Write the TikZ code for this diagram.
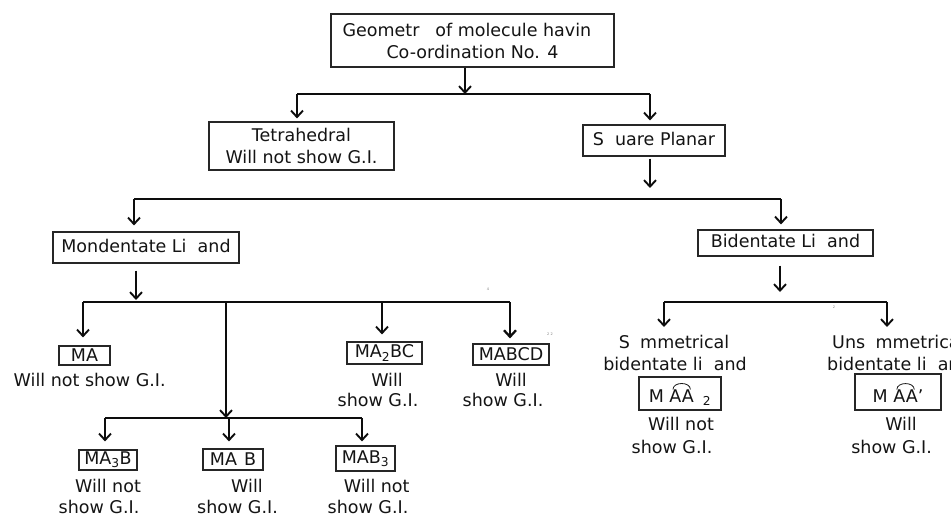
\documentclass[tikz,border=0pt]{standalone}
\usepackage{fontspec}
\setmainfont{DejaVu Sans}
\usetikzlibrary{arrows.meta}
\newcommand\arcAA[1]{\tikz[baseline=(q.base)]{\node[inner sep=0pt,outer sep=0pt,draw=none,minimum size=0pt](q){#1};\draw[line width=0.8pt,black!90] ([xshift=3.5pt,yshift=0.5pt]q.north west) .. controls +(0pt,8pt) and +(0pt,8pt) .. ([xshift=-3.5pt,yshift=0.5pt]q.north east);}}
\begin{document}
\begin{tikzpicture}[x=1pt,y=-1pt,
  txt/.style={font=\fontsize{17.5}{22}\selectfont, text=black!92},
  lbl/.style={txt, inner sep=0pt, anchor=base},
  box/.style={txt, draw=black!85, line width=1.1pt, inner sep=0pt, align=center},
  ln/.style={draw=black!95, line width=1.9pt},
  arr/.style={ln, -{Straight Barb[length=6.5pt,width=12pt]}},
  stray/.style={font=\fontsize{3.5}{4}\selectfont, text=black!50, inner sep=0pt}]
\useasboundingbox (0,0) rectangle (951,516);
\clip (0,0) rectangle (951,516);
\fill[white] (0,0) rectangle (951,516);

% boxes
\node[box, minimum width=283pt, minimum height=53pt] (top) at (472.5,40.5) {Geometr\phantom{y} of molecule havin\phantom{g}\\Co-ordination No. 4};
\node[box, minimum width=185pt, minimum height=48pt] (tetra) at (301.5,146) {Tetrahedral\\Will not show G.I.};
\node[box, minimum width=142pt, minimum height=31pt] (sp) at (654,140.5) {S\phantom{q}uare Planar};
\node[box, minimum width=186pt, minimum height=31pt] (mono) at (146,247.5) {Mondentate Li\phantom{g}and};
\node[box, minimum width=175pt, minimum height=26pt] (bid) at (785.5,243) {Bidentate Li\phantom{g}and};
\node[box, minimum width=51pt, minimum height=19pt] (ma) at (84.5,355.5) {MA};
\node[box, minimum width=75pt, minimum height=22pt] (mabc) at (384.5,353) {MA\textsubscript{2}BC};
\node[box, minimum width=76pt, minimum height=21pt] (mabcd) at (511,354.5) {MABCD};
\node[box, minimum width=58pt, minimum height=20pt] (mathreeb) at (108,460) {MA\textsubscript{3}B};
\node[box, minimum width=60pt, minimum height=21pt] (mab) at (233,459.5) {MA\hspace{7pt}B};
\node[box, minimum width=59pt, minimum height=25pt] (mabthree) at (365.5,458.5) {MAB\textsubscript{3}};
\node[box, minimum width=82pt, minimum height=33pt] (symbox) at (680,393.5) {M \arcAA{AA}\hspace{9pt}\textsubscript{2}};
\node[box, minimum width=86pt, minimum height=36pt] (unsbox) at (898,392) {M \arcAA{AA}'};

% labels
\node[lbl] (maL) at (89.7,386) {Will not show G.I.};
\node[lbl] (mabcL1) at (387,386) {Will};
\node[lbl] (mabcL2) at (378,406) {show G.I.};
\node[lbl] (mabcdL1) at (511,386) {Will};
\node[lbl] (mabcdL2) at (503,406) {show G.I.};
\node[lbl] (m3bL1) at (108,492) {Will not};
\node[lbl] (m3bL2) at (99,513) {show G.I.};
\node[lbl] (mabL1) at (247,492) {Will};
\node[lbl] (mabL2) at (237.5,513) {show G.I.};
\node[lbl] (mb3L1) at (376.7,492) {Will not};
\node[lbl] (mb3L2) at (368,513) {show G.I.};
\node[lbl] (symT1) at (674,348) {S\phantom{y}mmetrical};
\node[lbl] (symT2) at (675,370) {bidentate li\phantom{g}and};
\node[lbl] (symL1) at (681,430) {Will not};
\node[lbl] (symL2) at (672,453) {show G.I.};
\node[lbl, anchor=base west] (unsT1) at (832,348) {Uns\phantom{y}mmetrical};
\node[lbl, anchor=base west] (unsT2) at (827,370) {bidentate li\phantom{g}and};
\node[lbl] (unsL1) at (901,430) {Will};
\node[lbl] (unsL2) at (891.6,453) {show G.I.};

% stray marks
\node[stray] (s1) at (488,289) {4};
\node[stray] (s2) at (550,334) {2 2};
\node[stray] (s3) at (834,307) {2};

% connectors: level 1
\coordinate (j0) at (465,94);
\coordinate (jL) at (297,94);
\coordinate (jR) at (650,94);
\draw[arr] (top.south -| j0) -- (j0);
\draw[ln] (jL) -- (jR);
\draw[arr, shorten >=3pt] (jL) -- (jL |- tetra.north);
\draw[arr, shorten >=4pt] (jR) -- (jR |- sp.north);

% level 2
\coordinate (k0) at (650,188);
\coordinate (kL) at (134,199);
\coordinate (kR) at (781,199);
\draw[arr] ([yshift=-2pt]sp.south -| k0) -- (k0);
\draw[ln] (kL) -- (kR);
\draw[arr, shorten >=6pt] (kL) -- (kL |- mono.north);
\draw[arr, shorten >=5pt] (kR) -- (kR |- bid.north);

% monodentate branch
\coordinate (m0) at (136,300);
\coordinate (mL) at (83,302);
\coordinate (mM) at (226,302);
\coordinate (mC) at (382,302);
\coordinate (mR) at (510,302);
\coordinate (n0) at (226,418);
\draw[arr] ([yshift=-7pt]mono.south -| m0) -- (m0);
\draw[ln] (mL) -- (mR);
\draw[arr, shorten >=8pt] (mL) -- (mL |- ma.north);
\draw[arr] (mM) -- (n0);
\draw[arr, shorten >=7pt] (mC) -- (mC |- mabc.north);
\draw[arr, line width=2.3pt, shorten >=5pt] (mR) -- (mR |- mabcd.north);
\coordinate (nL) at (105,418);
\coordinate (nM) at (229,418);
\coordinate (nR) at (362,418);
\draw[ln] (nL) -- (nR);
\draw[arr, shorten >=8pt] (nL) -- (nL |- mathreeb.north);
\draw[arr, shorten >=7pt] (nM) -- (nM |- mab.north);
\draw[arr, shorten >=4pt] (nR) -- (nR |- mabthree.north);

% bidentate branch
\coordinate (b0) at (780,292);
\coordinate (bL) at (664,302);
\coordinate (bR) at (887,302);
\coordinate (bLt) at (664,327);
\coordinate (bRt) at (887,327);
\draw[arr] ([yshift=-9pt]bid.south -| b0) -- (b0);
\draw[ln] (bL) -- (bR);
\draw[arr] (bL) -- (bLt);
\draw[arr] (bR) -- (bRt);
\end{tikzpicture}
\end{document}
